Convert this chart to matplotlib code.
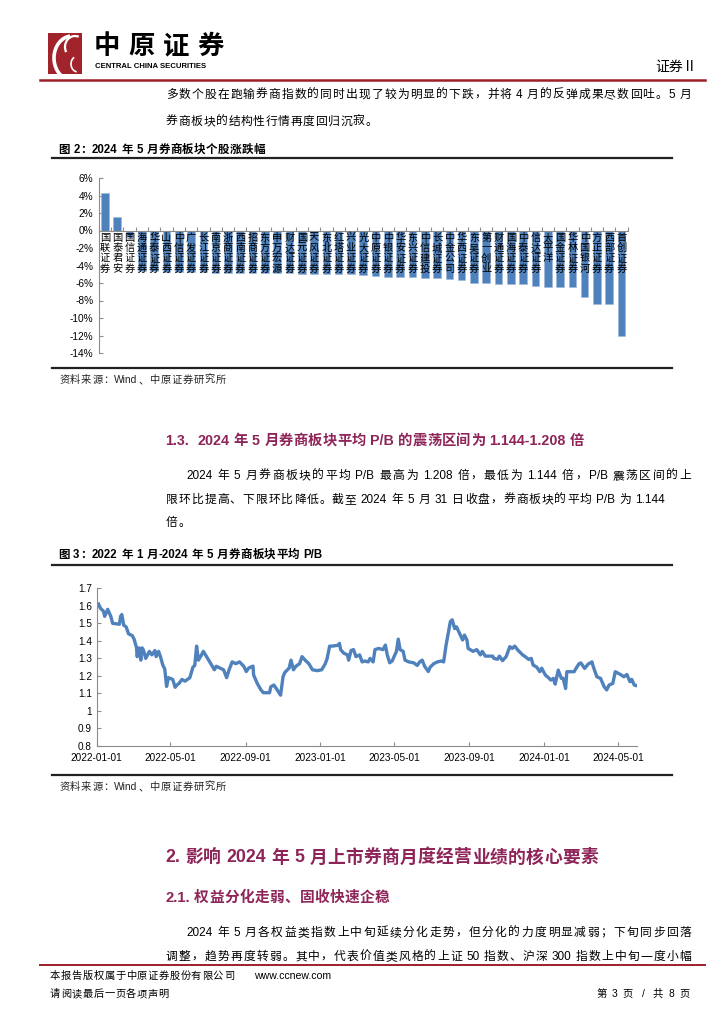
import pandas as pd
import matplotlib
matplotlib.use('Agg')
import matplotlib.pyplot as plt
import matplotlib.dates as mdates
from matplotlib.patches import Rectangle, Arc
from matplotlib.lines import Line2D
from matplotlib.ticker import FixedLocator, FuncFormatter

W, H = 724, 1024
FONTS = ['Liberation Sans', 'Noto Sans CJK SC']
plt.rcParams['font.family'] = FONTS

BLUE = '#4F81BD'
HEAD = '#8E2559'
RED = '#9E1F2A'

# ---- data: figure 2, stock changes in May 2024 (%) ----
stock_names = ['国联证券', '国泰君安', '国信证券', '海通证券', '华泰证券', '山西证券', '中信证券',
               '广发证券', '长江证券', '南京证券', '浙商证券', '西南证券', '招商证券', '东方证券',
               '申万宏源', '财达证券', '国元证券', '天风证券', '东北证券', '红塔证券', '兴业证券',
               '光大证券', '中原证券', '中银证券', '华安证券', '东兴证券', '中信建投', '长城证券',
               '中金公司', '华西证券', '东吴证券', '第一创业', '财通证券', '国海证券', '中泰证券',
               '信达证券', '太平洋', '国金证券', '华林证券', '中国银河', '方正证券', '西部证券',
               '首创证券']
stock_changes = [4.3, 1.5, -0.7, -4.6, -4.65, -4.7, -4.7, -4.75, -4.75, -4.8, -4.8, -4.85,
                 -4.85, -4.9, -4.9, -4.9, -4.95, -4.95, -5.0, -5.0, -5.0, -5.05, -5.25, -5.3,
                 -5.3, -5.3, -5.4, -5.45, -5.55, -5.7, -6.0, -6.05, -6.1, -6.15, -6.15, -6.3,
                 -6.4, -6.5, -6.5, -7.6, -8.4, -8.45, -12.0]
bar_ticks = [6, 4, 2, 0, -2, -4, -6, -8, -10, -12, -14]

# ---- data: figure 3, sector average P/B ----
dates_2022 = ['2022-01-04', '2022-01-07', '2022-01-12', '2022-01-14', '2022-01-19', '2022-01-24',
              '2022-01-27', '2022-02-07', '2022-02-09', '2022-02-11', '2022-02-14', '2022-02-18',
              '2022-02-22', '2022-02-28', '2022-03-03', '2022-03-07', '2022-03-08', '2022-03-11',
              '2022-03-14', '2022-03-16', '2022-03-18', '2022-03-22', '2022-03-28', '2022-04-01',
              '2022-04-06', '2022-04-08', '2022-04-12', '2022-04-15', '2022-04-19', '2022-04-22',
              '2022-04-25', '2022-04-28', '2022-05-05', '2022-05-09', '2022-05-11', '2022-05-16',
              '2022-05-20', '2022-05-25', '2022-06-02', '2022-06-07', '2022-06-10', '2022-06-13',
              '2022-06-16', '2022-06-21', '2022-06-24', '2022-07-01', '2022-07-06', '2022-07-12',
              '2022-07-15', '2022-07-21', '2022-07-27', '2022-08-01', '2022-08-05', '2022-08-10',
              '2022-08-16', '2022-08-22', '2022-08-29', '2022-09-02', '2022-09-06', '2022-09-13',
              '2022-09-14', '2022-09-20', '2022-09-26', '2022-09-30', '2022-10-10', '2022-10-12',
              '2022-10-17', '2022-10-21', '2022-10-28', '2022-11-01', '2022-11-04', '2022-11-11',
              '2022-11-14', '2022-11-18', '2022-11-22', '2022-11-28', '2022-12-02', '2022-12-07',
              '2022-12-13', '2022-12-19', '2022-12-27']
pb_2022 = [1.61, 1.586, 1.57, 1.54, 1.58, 1.54, 1.50, 1.495, 1.54, 1.55, 1.49, 1.48, 1.44, 1.43,
           1.41, 1.36, 1.31, 1.36, 1.29, 1.36, 1.35, 1.30, 1.34, 1.32, 1.345, 1.31, 1.34, 1.31,
           1.26, 1.24, 1.14, 1.19, 1.18, 1.135, 1.145, 1.16, 1.18, 1.17, 1.19, 1.25, 1.26, 1.37,
           1.29, 1.32, 1.34, 1.30, 1.27, 1.235, 1.255, 1.245, 1.235, 1.19, 1.235, 1.28, 1.27,
           1.28, 1.255, 1.225, 1.245, 1.256, 1.205, 1.157, 1.12, 1.104, 1.104, 1.138, 1.148,
           1.128, 1.09, 1.195, 1.22, 1.245, 1.29, 1.235, 1.255, 1.27, 1.31, 1.29, 1.27, 1.235,
           1.23]
dates_2023 = ['2023-01-03', '2023-01-09', '2023-01-12', '2023-01-16', '2023-01-20', '2023-01-30',
              '2023-02-01', '2023-02-03', '2023-02-08', '2023-02-14', '2023-02-16', '2023-02-20',
              '2023-02-24', '2023-02-28', '2023-03-06', '2023-03-10', '2023-03-14', '2023-03-20',
              '2023-03-23', '2023-03-28', '2023-03-31', '2023-04-06', '2023-04-13', '2023-04-17',
              '2023-04-20', '2023-04-24', '2023-04-28', '2023-05-05', '2023-05-08', '2023-05-11',
              '2023-05-16', '2023-05-19', '2023-05-25', '2023-06-02', '2023-06-08', '2023-06-12',
              '2023-06-16', '2023-06-20', '2023-06-26', '2023-06-29', '2023-07-05', '2023-07-11',
              '2023-07-17', '2023-07-21', '2023-07-25', '2023-07-28', '2023-08-01', '2023-08-04',
              '2023-08-08', '2023-08-11', '2023-08-16', '2023-08-21', '2023-08-24', '2023-08-28',
              '2023-08-30', '2023-09-07', '2023-09-13', '2023-09-19', '2023-09-22', '2023-09-27',
              '2023-10-09', '2023-10-11', '2023-10-17', '2023-10-20', '2023-10-25', '2023-10-31',
              '2023-11-06', '2023-11-10', '2023-11-14', '2023-11-20', '2023-11-27', '2023-12-01',
              '2023-12-07', '2023-12-11', '2023-12-14', '2023-12-20', '2023-12-25', '2023-12-28']
pb_2023 = [1.235, 1.27, 1.30, 1.37, 1.37, 1.375, 1.386, 1.35, 1.33, 1.32, 1.29, 1.345, 1.35,
           1.31, 1.32, 1.28, 1.285, 1.28, 1.30, 1.28, 1.35, 1.357, 1.35, 1.376, 1.32, 1.275,
           1.285, 1.34, 1.41, 1.35, 1.34, 1.29, 1.28, 1.275, 1.26, 1.28, 1.29, 1.255, 1.225,
           1.25, 1.27, 1.28, 1.285, 1.28, 1.376, 1.433, 1.51, 1.52, 1.47, 1.48, 1.443, 1.405,
           1.433, 1.405, 1.357, 1.34, 1.35, 1.32, 1.34, 1.313, 1.313, 1.30, 1.295, 1.313, 1.287,
           1.31, 1.367, 1.357, 1.37, 1.344, 1.32, 1.31, 1.294, 1.30, 1.262, 1.25, 1.224, 1.244]
dates_2024 = ['2024-01-03', '2024-01-08', '2024-01-12', '2024-01-16', '2024-01-19', '2024-01-24',
              '2024-01-29', '2024-02-01', '2024-02-05', '2024-02-07', '2024-02-19', '2024-02-22',
              '2024-02-27', '2024-03-01', '2024-03-07', '2024-03-13', '2024-03-19', '2024-03-21',
              '2024-03-27', '2024-04-02', '2024-04-08', '2024-04-12', '2024-04-16', '2024-04-22',
              '2024-04-26', '2024-05-06', '2024-05-10', '2024-05-15', '2024-05-20', '2024-05-23',
              '2024-05-27', '2024-05-31']
pb_2024 = [1.205, 1.19, 1.176, 1.186, 1.153, 1.233, 1.186, 1.186, 1.128, 1.224, 1.224, 1.243,
           1.27, 1.274, 1.243, 1.268, 1.28, 1.255, 1.195, 1.186, 1.138, 1.12, 1.148, 1.157,
           1.224, 1.205, 1.195, 1.208, 1.167, 1.18, 1.148, 1.144]
pb_xticks = ['2022-01-01', '2022-05-01', '2022-09-01', '2023-01-01', '2023-05-01',
             '2023-09-01', '2024-01-01', '2024-05-01']
pb_yticks = [0.8, 0.9, 1.0, 1.1, 1.2, 1.3, 1.4, 1.5, 1.6, 1.7]


def fx(x):
    return x / W


def fy(y):
    return 1 - y / H


def hline(fig, x0, x1, y, color='black', lw=1.0):
    fig.add_artist(Line2D([fx(x0), fx(x1)], [fy(y), fy(y)], color=color, lw=lw))


def put_line(fig, text, x0, y, size, right=None, color='black', weight='normal', track=0.0):
    # place a line of mixed CJK/latin text, optionally justified to a right edge
    r = fig.canvas.get_renderer()
    toks, buf = [], ''
    for ch in text:
        if ch == ' ':
            if buf:
                toks.append(buf)
                buf = ''
            toks.append(' ')
        elif ord(ch) < 128:
            buf += ch
        else:
            if buf:
                toks.append(buf)
                buf = ''
            toks.append(ch)
    if buf:
        toks.append(buf)
    items = []
    for t in toks:
        if t == ' ':
            items.append((None, size * 100 / 72 * 0.28))
            continue
        tx = fig.text(0, fy(y), t, fontsize=size, color=color, weight=weight,
                      va='center', ha='left')
        items.append((tx, tx.get_window_extent(r).width + track))
    total = sum(w for _, w in items)
    n = sum(1 for t, _ in items if t is not None)
    extra = 0
    if right is not None and n > 1:
        extra = (right - x0 - total) / (n - 1)
    x = x0
    for tx, w in items:
        if tx is not None:
            tx.set_x(fx(x))
            x += w + extra
        else:
            x += w


fig = plt.figure(figsize=(W / 100, H / 100), dpi=100)

# ---- header ----
lax = fig.add_axes([fx(48), fy(74), 34 / W, 41 / H])
lax.set_xlim(0, 34)
lax.set_ylim(0, 41)
lax.axis('off')
lax.add_patch(Rectangle((0, 0), 34, 41, color='#A1232B'))
lax.add_patch(Arc((24, 16), 36, 44, theta1=95, theta2=260, color='white', lw=2.6))
lax.add_patch(Arc((27, 27), 20, 22, theta1=70, theta2=210, color='white', lw=1.6))
lax.add_patch(Arc((30, 10), 14, 16, theta1=120, theta2=260, color='white', lw=1.2))

put_line(fig, '中原证券', 94, 47, 19, weight='bold', track=8)
fig.text(fx(95), fy(67), 'CENTRAL CHINA SECURITIES', fontsize=5.6, weight='bold', va='center')
fig.text(fx(697), fy(67), '证券Ⅱ', fontsize=10, ha='right', va='center')
hline(fig, 40, 705, 80, RED, 1.8)

# ---- text above figure 2 ----
put_line(fig, '多数个股在跑输券商指数的同时出现了较为明显的下跌，并将 4 月的反弹成果尽数回吐。5 月',
         166, 95, 8.5, right=691)
put_line(fig, '券商板块的结构性行情再度回归沉寂。', 166, 122, 8.5, track=0.7)
put_line(fig, '图 2：2024 年 5 月券商板块个股涨跌幅', 58, 150, 8.3, weight='bold', track=0.4)
hline(fig, 52, 672, 158.3, '#222222', 1.6)

# ---- figure 2: bar chart ----
ax1 = fig.add_axes([fx(98.8), fy(353), (627.7 - 98.8) / W, 175 / H])
xs = list(range(len(stock_names)))
ax1.bar(xs, stock_changes, width=0.62, color=BLUE, edgecolor='#9DB7DA', linewidth=0.4, zorder=2)
for i, name in enumerate(stock_names):
    ax1.text(i, -0.25, '\n'.join(name), ha='center', va='top', fontsize=7.4,
             linespacing=1.05, color='black', zorder=3)
ax1.set_xlim(-0.5, len(stock_names) - 0.5)
ax1.set_ylim(-14, 6)
ax1.set_yticks(bar_ticks)
ax1.yaxis.set_major_formatter(FuncFormatter(lambda v, p: f'{v:.0f}%'))
ax1.spines['bottom'].set_position(('data', 0))
for s in ['top', 'right']:
    ax1.spines[s].set_visible(False)
for s in ['left', 'bottom']:
    ax1.spines[s].set_color('#8C8C8C')
    ax1.spines[s].set_linewidth(0.8)
ax1.xaxis.set_major_locator(FixedLocator([i - 0.5 for i in range(len(stock_names) + 1)]))
ax1.set_xticklabels([])
ax1.tick_params(axis='x', direction='in', length=3, color='#8C8C8C')
ax1.tick_params(axis='y', direction='in', length=3, color='#8C8C8C', labelsize=7.3, pad=4)
ax1.set_facecolor('none')

hline(fig, 52, 672, 367.5, '#222222', 1.6)
put_line(fig, '资料来源：Wind、中原证券研究所', 59, 380, 7.4, track=0.8, color='#222222')

# ---- section 1.3 ----
put_line(fig, '1.3.  2024 年 5 月券商板块平均 P/B 的震荡区间为 1.144-1.208 倍', 165, 441, 10.3,
         color=HEAD, weight='bold', track=0.3)
put_line(fig, '2024 年 5 月券商板块的平均 P/B 最高为 1.208 倍，最低为 1.144 倍，P/B 震荡区间的上',
         186, 476, 8.5, right=691)
put_line(fig, '限环比提高、下限环比降低。截至 2024 年 5 月 31 日收盘，券商板块的平均 P/B 为 1.144',
         166, 500, 8.5, right=665)
put_line(fig, '倍。', 166, 523, 8.5, track=0.7)
put_line(fig, '图 3：2022 年 1 月-2024 年 5 月券商板块平均 P/B', 58, 555, 8.3, weight='bold', track=0.4)
hline(fig, 52, 672, 565, '#222222', 1.6)

# ---- figure 3: line chart ----
pb_dates = pd.to_datetime(dates_2022 + dates_2023 + dates_2024)
pb_values = pb_2022 + pb_2023 + pb_2024
ax2 = fig.add_axes([fx(96.7), fy(746), 540 / W, 157.7 / H])
ax2.plot(pb_dates, pb_values, color=BLUE, lw=2.4, solid_joinstyle='round')
ax2.set_xlim(pd.Timestamp('2022-01-01'), pd.Timestamp('2024-05-31'))
ax2.set_ylim(0.8, 1.7)
ax2.set_yticks(pb_yticks)
ax2.yaxis.set_major_formatter(FuncFormatter(lambda v, p: f'{v:g}'))
ax2.set_xticks(pd.to_datetime(pb_xticks))
ax2.xaxis.set_major_formatter(mdates.DateFormatter('%Y-%m-%d'))
for s in ['top', 'right']:
    ax2.spines[s].set_visible(False)
for s in ['left', 'bottom']:
    ax2.spines[s].set_color('#8C8C8C')
    ax2.spines[s].set_linewidth(0.8)
ax2.tick_params(axis='both', direction='in', length=3, color='#8C8C8C', labelsize=7.2)
ax2.tick_params(axis='x', pad=5)
ax2.set_facecolor('none')

hline(fig, 52, 672, 775, '#222222', 1.6)
put_line(fig, '资料来源：Wind、中原证券研究所', 59, 787, 7.4, track=0.8, color='#222222')

# ---- section 2 ----
put_line(fig, '2. 影响 2024 年 5 月上市券商月度经营业绩的核心要素', 165, 858, 12.8,
         color=HEAD, weight='bold', track=0.3)
put_line(fig, '2.1. 权益分化走弱、固收快速企稳', 165, 898, 10.6, color=HEAD, weight='bold', track=0.3)
put_line(fig, '2024 年 5 月各权益类指数上中旬延续分化走势，但分化的力度明显减弱；下旬同步回落',
         186, 933, 8.5, right=691)
put_line(fig, '调整，趋势再度转弱。其中，代表价值类风格的上证 50 指数、沪深 300 指数上中旬一度小幅',
         166, 957, 8.5, right=691)

# ---- footer ----
hline(fig, 40, 705, 965, RED, 1.4)
put_line(fig, '本报告版权属于中原证券股份有限公司', 50, 976, 7.4, track=0.6)
fig.text(fx(254), fy(976), 'www.ccnew.com', fontsize=7.6, va='center')
put_line(fig, '请阅读最后一页各项声明', 50, 994, 7.4, track=0.6)
put_line(fig, '第 3 页  /  共 8 页', 596, 994, 7.4, right=690)

fig.savefig('out.png', dpi=100)
